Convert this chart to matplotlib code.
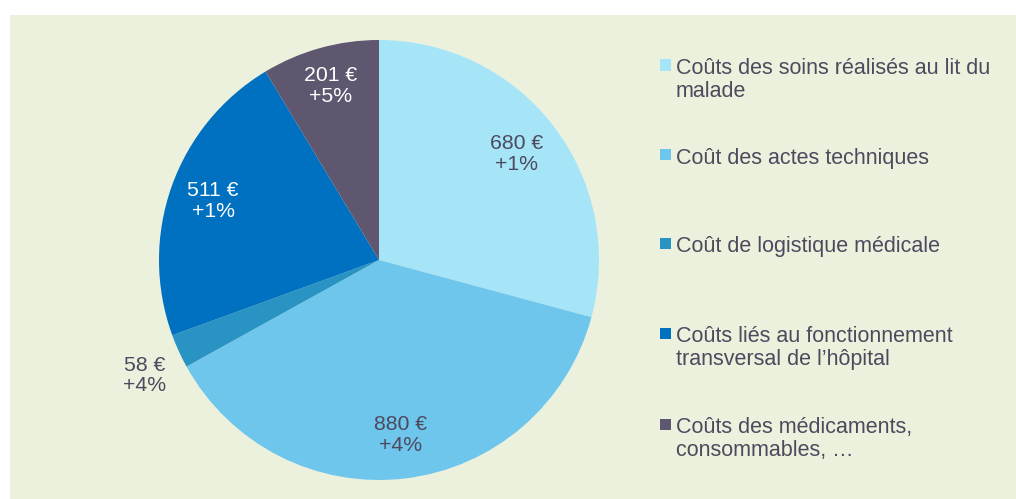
import numpy as np
import matplotlib
matplotlib.use("Agg")
import matplotlib.pyplot as plt
from matplotlib.patches import Rectangle

plt.rcParams['font.family'] = ['Liberation Sans', 'DejaVu Sans']

# Cost breakdown per stay
categories = [
    "Coûts des soins réalisés au lit du\nmalade",
    "Coût des actes techniques",
    "Coût de logistique médicale",
    "Coûts liés au fonctionnement\ntransversal de l’hôpital",
    "Coûts des médicaments,\nconsommables, …",
]
values = [680, 880, 58, 511, 201]
changes = ["+1%", "+4%", "+4%", "+1%", "+5%"]

colors = ["#A6E5F8", "#6EC6EC", "#2993C4", "#0070C0", "#5F5670"]
label_colors = ["#4D4A5E", "#4D4A5E", "#4D4A5E", "white", "white"]
label_dist = [0.79, 0.80, 1.17, 0.80, 0.82]
text_color = "#4D4A5E"
bg = "#EBF1DD"

W, H = 1016, 499
fig = plt.figure(figsize=(W / 100, H / 100), dpi=100)
fig.patch.set_facecolor("white")

# green panel behind the chart
fig.add_artist(Rectangle((10 / W, 0), 1006 / W, 484 / H,
                         transform=fig.transFigure, facecolor=bg,
                         edgecolor="none", zorder=0))

ax = fig.add_axes([159 / W, 19 / H, 440 / W, 440 / H])
ax.set_facecolor("none")
wedges, _ = ax.pie(values, colors=colors, startangle=90, counterclock=False,
                   radius=1, wedgeprops=dict(linewidth=0))
ax.set_xlim(-1, 1)
ax.set_ylim(-1, 1)
ax.set_aspect("equal")
ax.axis("off")

for w, v, ch, c, d in zip(wedges, values, changes, label_colors, label_dist):
    mid = np.deg2rad((w.theta1 + w.theta2) / 2)
    x, y = d * np.cos(mid), d * np.sin(mid)
    ax.text(x, y - (0.04 if d > 1 else 0), f"{v} €\n{ch}", ha="center",
            va="center", color=c, fontsize=15.3, linespacing=1.12,
            clip_on=False)

# legend on the right
legend_y = [65, 155, 243, 333, 424]
for y, lab, col in zip(legend_y, categories, colors):
    fig.add_artist(Rectangle((660 / W, 1 - (y + 5.5) / H), 11 / W, 11 / H,
                             transform=fig.transFigure, facecolor=col,
                             edgecolor="none"))
    fig.text(676 / W, 1 - (y - 7) / H, lab, ha="left", va="top",
             color=text_color, fontsize=15.5, linespacing=1.12)

fig.savefig("out.png", dpi=100, facecolor=fig.get_facecolor())
